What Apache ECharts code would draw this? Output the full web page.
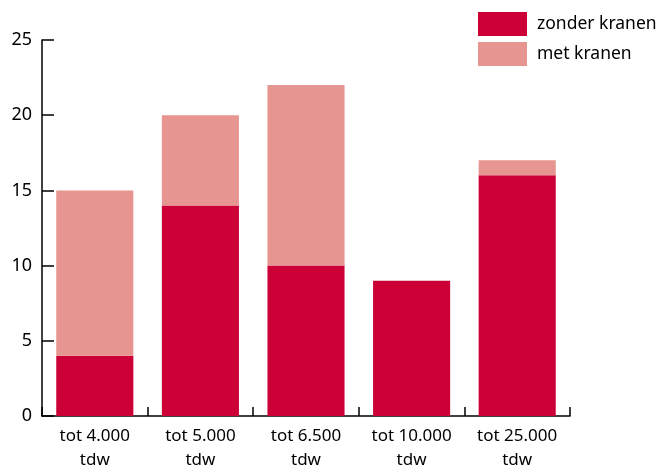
<!DOCTYPE html>
<html><head><meta charset="utf-8">
<script src="https://cdn.jsdelivr.net/npm/echarts@6/dist/echarts.min.js"></script>
<style>html,body{margin:0;padding:0;background:#fff}#c{width:662px;height:468px}</style>
</head><body><div id="c"></div>
<script>
const categories = ['tot 4.000\ntdw','tot 5.000\ntdw','tot 6.500\ntdw','tot 10.000\ntdw','tot 25.000\ntdw'];
const zonderKranen = [4, 14, 10, 9, 16];
const metKranen = [11, 6, 12, 0, 1];
const seriesNames = ['zonder kranen','met kranen'];
const chart = echarts.init(document.getElementById('c'));
const font = 'Noto Sans';
chart.setOption({
  animation:false,
  textStyle:{fontFamily:font},
  legend:{orient:'vertical', left:473, top:7, itemWidth:49, itemHeight:24, itemGap:6,
    icon:'rect', textStyle:{fontSize:17.5, color:'#000', fontFamily:font, padding:[0,0,0,5]}, data:seriesNames},
  grid:{left:42, right:92, top:40, bottom:52, containLabel:false, outerBoundsMode:'none'},
  xAxis:{type:'category', data:categories,
    axisLine:{show:true, lineStyle:{color:'#000', width:1.5}},
    axisTick:{show:true, inside:true, length:9, interval:0, alignWithLabel:false, lineStyle:{color:'#000', width:1.5}},
    axisLabel:{color:'#000', fontSize:17, lineHeight:24, margin:8, interval:0, hideOverlap:false, fontFamily:font}},
  yAxis:{type:'value', min:0, max:25, interval:5,
    axisLine:{show:true, lineStyle:{color:'#000', width:1.5}},
    axisTick:{show:true, inside:true, length:12, lineStyle:{color:'#000', width:1.5}},
    splitLine:{show:false},
    axisLabel:{color:'#000', fontSize:18, margin:10, fontFamily:font}},
  series:[
    {name:seriesNames[0], type:'bar', stack:'a', data:zonderKranen, barCategoryGap:'27%', itemStyle:{color:'#CC0036'}},
    {name:seriesNames[1], type:'bar', stack:'a', data:metKranen, itemStyle:{color:'#E69590'}}
  ]
});
</script></body></html>
